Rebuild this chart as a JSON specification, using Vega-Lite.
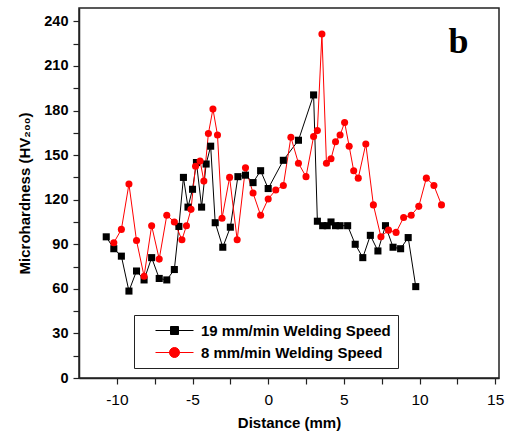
{
  "$schema": "https://vega.github.io/schema/vega-lite/v6.json",
  "width": 420,
  "height": 370,
  "autosize": "none",
  "padding": {"left": 79, "top": 8, "right": 9, "bottom": 63},
  "config": {
    "view": {"stroke": "#222", "strokeWidth": 1.5},
    "font": "Liberation Sans"
  },
  "datasets": {
    "pts": [
      {"series": "19 mm/min Welding Speed", "x": -10.7, "y": 95},
      {"series": "19 mm/min Welding Speed", "x": -10.2, "y": 87},
      {"series": "19 mm/min Welding Speed", "x": -9.7, "y": 82},
      {"series": "19 mm/min Welding Speed", "x": -9.2, "y": 58.5},
      {"series": "19 mm/min Welding Speed", "x": -8.7, "y": 72},
      {"series": "19 mm/min Welding Speed", "x": -8.2, "y": 66},
      {"series": "19 mm/min Welding Speed", "x": -7.7, "y": 81},
      {"series": "19 mm/min Welding Speed", "x": -7.2, "y": 67},
      {"series": "19 mm/min Welding Speed", "x": -6.7, "y": 66},
      {"series": "19 mm/min Welding Speed", "x": -6.2, "y": 73},
      {"series": "19 mm/min Welding Speed", "x": -5.9, "y": 102},
      {"series": "19 mm/min Welding Speed", "x": -5.6, "y": 135},
      {"series": "19 mm/min Welding Speed", "x": -5.3, "y": 115},
      {"series": "19 mm/min Welding Speed", "x": -5.0, "y": 127},
      {"series": "19 mm/min Welding Speed", "x": -4.74, "y": 145},
      {"series": "19 mm/min Welding Speed", "x": -4.4, "y": 115},
      {"series": "19 mm/min Welding Speed", "x": -4.1, "y": 144},
      {"series": "19 mm/min Welding Speed", "x": -3.8, "y": 156},
      {"series": "19 mm/min Welding Speed", "x": -3.5, "y": 104.5},
      {"series": "19 mm/min Welding Speed", "x": -3.0, "y": 88},
      {"series": "19 mm/min Welding Speed", "x": -2.5, "y": 101.5},
      {"series": "19 mm/min Welding Speed", "x": -2.0, "y": 135.5},
      {"series": "19 mm/min Welding Speed", "x": -1.5, "y": 136.5},
      {"series": "19 mm/min Welding Speed", "x": -1.0, "y": 131.5},
      {"series": "19 mm/min Welding Speed", "x": -0.5, "y": 139.5},
      {"series": "19 mm/min Welding Speed", "x": 0.0, "y": 127.5},
      {"series": "19 mm/min Welding Speed", "x": 1.0, "y": 146.5},
      {"series": "19 mm/min Welding Speed", "x": 2.0, "y": 160},
      {"series": "19 mm/min Welding Speed", "x": 3.0, "y": 190.5},
      {"series": "19 mm/min Welding Speed", "x": 3.25, "y": 105.5},
      {"series": "19 mm/min Welding Speed", "x": 3.6, "y": 102.5},
      {"series": "19 mm/min Welding Speed", "x": 3.9, "y": 102.5},
      {"series": "19 mm/min Welding Speed", "x": 4.15, "y": 105},
      {"series": "19 mm/min Welding Speed", "x": 4.45, "y": 102.5},
      {"series": "19 mm/min Welding Speed", "x": 4.75, "y": 102.5},
      {"series": "19 mm/min Welding Speed", "x": 5.25, "y": 102.5},
      {"series": "19 mm/min Welding Speed", "x": 5.75, "y": 90},
      {"series": "19 mm/min Welding Speed", "x": 6.25, "y": 81},
      {"series": "19 mm/min Welding Speed", "x": 6.75, "y": 96},
      {"series": "19 mm/min Welding Speed", "x": 7.25, "y": 85.5},
      {"series": "19 mm/min Welding Speed", "x": 7.75, "y": 102.5},
      {"series": "19 mm/min Welding Speed", "x": 8.25, "y": 88},
      {"series": "19 mm/min Welding Speed", "x": 8.75, "y": 87},
      {"series": "19 mm/min Welding Speed", "x": 9.25, "y": 94.5},
      {"series": "19 mm/min Welding Speed", "x": 9.75, "y": 61.5},
      {"series": "8 mm/min Welding Speed", "x": -10.2, "y": 91},
      {"series": "8 mm/min Welding Speed", "x": -9.7, "y": 100},
      {"series": "8 mm/min Welding Speed", "x": -9.2, "y": 130.5},
      {"series": "8 mm/min Welding Speed", "x": -8.7, "y": 92.5},
      {"series": "8 mm/min Welding Speed", "x": -8.2, "y": 68.5},
      {"series": "8 mm/min Welding Speed", "x": -7.7, "y": 102.5},
      {"series": "8 mm/min Welding Speed", "x": -7.2, "y": 80},
      {"series": "8 mm/min Welding Speed", "x": -6.7, "y": 109.5},
      {"series": "8 mm/min Welding Speed", "x": -6.2, "y": 105},
      {"series": "8 mm/min Welding Speed", "x": -5.7, "y": 93},
      {"series": "8 mm/min Welding Speed", "x": -5.4, "y": 102.5},
      {"series": "8 mm/min Welding Speed", "x": -5.1, "y": 113.5},
      {"series": "8 mm/min Welding Speed", "x": -4.8, "y": 142.5},
      {"series": "8 mm/min Welding Speed", "x": -4.5, "y": 146},
      {"series": "8 mm/min Welding Speed", "x": -4.25, "y": 132.5},
      {"series": "8 mm/min Welding Speed", "x": -3.95, "y": 164.5},
      {"series": "8 mm/min Welding Speed", "x": -3.65, "y": 181},
      {"series": "8 mm/min Welding Speed", "x": -3.35, "y": 163.5},
      {"series": "8 mm/min Welding Speed", "x": -3.05, "y": 107.5},
      {"series": "8 mm/min Welding Speed", "x": -2.55, "y": 135},
      {"series": "8 mm/min Welding Speed", "x": -2.05, "y": 93},
      {"series": "8 mm/min Welding Speed", "x": -1.5, "y": 141.5},
      {"series": "8 mm/min Welding Speed", "x": -1.0, "y": 124.5},
      {"series": "8 mm/min Welding Speed", "x": -0.5, "y": 109.5},
      {"series": "8 mm/min Welding Speed", "x": 0.0, "y": 120.5},
      {"series": "8 mm/min Welding Speed", "x": 0.5, "y": 126.5},
      {"series": "8 mm/min Welding Speed", "x": 1.0, "y": 129.5},
      {"series": "8 mm/min Welding Speed", "x": 1.5, "y": 162},
      {"series": "8 mm/min Welding Speed", "x": 2.0, "y": 144.5},
      {"series": "8 mm/min Welding Speed", "x": 2.5, "y": 135.5},
      {"series": "8 mm/min Welding Speed", "x": 3.0, "y": 162.5},
      {"series": "8 mm/min Welding Speed", "x": 3.25, "y": 166.5},
      {"series": "8 mm/min Welding Speed", "x": 3.55, "y": 231.5},
      {"series": "8 mm/min Welding Speed", "x": 3.85, "y": 144.5},
      {"series": "8 mm/min Welding Speed", "x": 4.15, "y": 147.5},
      {"series": "8 mm/min Welding Speed", "x": 4.45, "y": 159},
      {"series": "8 mm/min Welding Speed", "x": 4.75, "y": 163.5},
      {"series": "8 mm/min Welding Speed", "x": 5.05, "y": 172},
      {"series": "8 mm/min Welding Speed", "x": 5.35, "y": 156},
      {"series": "8 mm/min Welding Speed", "x": 5.65, "y": 139.5},
      {"series": "8 mm/min Welding Speed", "x": 5.95, "y": 134.5},
      {"series": "8 mm/min Welding Speed", "x": 6.45, "y": 157.5},
      {"series": "8 mm/min Welding Speed", "x": 6.95, "y": 116.5},
      {"series": "8 mm/min Welding Speed", "x": 7.45, "y": 95},
      {"series": "8 mm/min Welding Speed", "x": 7.95, "y": 99.5},
      {"series": "8 mm/min Welding Speed", "x": 8.45, "y": 98},
      {"series": "8 mm/min Welding Speed", "x": 8.95, "y": 108},
      {"series": "8 mm/min Welding Speed", "x": 9.45, "y": 109.5},
      {"series": "8 mm/min Welding Speed", "x": 9.95, "y": 115.5},
      {"series": "8 mm/min Welding Speed", "x": 10.45, "y": 134.5},
      {"series": "8 mm/min Welding Speed", "x": 10.95, "y": 129.5},
      {"series": "8 mm/min Welding Speed", "x": 11.45, "y": 116.5}
    ],
    "label": [{"text": "b", "x": 12.58, "y": 218.5}]
  },
  "encoding": {
    "x": {
      "field": "x", "type": "quantitative",
      "scale": {"domain": [-12.5, 15.25], "nice": false, "zero": false},
      "axis": {
        "title": "Distance (mm)",
        "values": [-10, -7.5, -5, -2.5, 0, 2.5, 5, 7.5, 10, 12.5, 15],
        "labelExpr": "datum.value % 5 === 0 ? '' + datum.value : ''",
        "grid": false,
        "domainColor": "#222", "domainWidth": 1.5,
        "tickColor": "#222", "tickWidth": 1.2, "tickSize": 6,
        "labelFont": "Liberation Sans", "labelFontSize": 15.5, "labelColor": "#000",
        "labelPadding": 8, "labelFlush": false,
        "titleFont": "Liberation Sans", "titleFontSize": 15, "titleFontWeight": "bold", "titleColor": "#000",
        "titlePadding": 8,
        "encode": {"ticks": {"update": {"y2": {"signal": "datum.value % 5 === 0 ? 6 : 3.5"}}}}
      }
    },
    "y": {
      "field": "y", "type": "quantitative",
      "scale": {"domain": [0, 249], "nice": false},
      "axis": {
        "title": "Microhardness (HV₂₀₀)",
        "values": [0, 15, 30, 45, 60, 75, 90, 105, 120, 135, 150, 165, 180, 195, 210, 225, 240],
        "labelExpr": "datum.value % 30 === 0 ? datum.label : ''",
        "grid": false,
        "domainColor": "#222", "domainWidth": 1.5,
        "tickColor": "#222", "tickWidth": 1.2, "tickSize": 6,
        "labelFont": "Liberation Sans", "labelFontSize": 14.5, "labelFontWeight": "bold", "labelColor": "#000",
        "labelPadding": 5,
        "titleFont": "Liberation Sans", "titleFontSize": 15, "titleFontWeight": "bold", "titleColor": "#000",
        "titlePadding": 11,
        "encode": {"ticks": {"update": {"x2": {"signal": "datum.value % 30 === 0 ? -6 : -3.5"}}}}
      }
    }
  },
  "layer": [
    {
      "data": {"name": "pts"},
      "mark": {"type": "line", "strokeWidth": 1},
      "encoding": {
        "color": {
          "field": "series", "type": "nominal",
          "scale": {"domain": ["19 mm/min Welding Speed", "8 mm/min Welding Speed"], "range": ["#000000", "#ff0000"]},
          "legend": {
            "title": null,
            "orient": "none",
            "legendX": 55,
            "legendY": 307,
            "direction": "vertical",
            "padding": 7,
            "strokeColor": "#222",
            "fillColor": "#ffffff",
            "symbolSize": 256,
            "symbolStrokeWidth": 1,
            "labelFont": "Liberation Sans",
            "labelFontSize": 15,
            "labelFontWeight": "bold",
            "labelColor": "#000",
            "labelOffset": 43,
            "rowPadding": 5,
            "labelLimit": 400,
            "labelExpr": "datum.label + '\u00a0\u00a0\u00a0'",
            "encode": {
              "symbols": {
                "update": {
                  "shape": {"signal": "datum.value === '19 mm/min Welding Speed' ? 'M0.75,0H5.5M2.625,-0.5H3.625V0.5H2.625Z' : 'M0.75,0H5.5M3.75,0A0.625,0.625,0,1,1,2.5,0A0.625,0.625,0,1,1,3.75,0Z'"},
                  "fill": {"signal": "datum.value === '19 mm/min Welding Speed' ? '#000000' : '#ff0000'"},
                  "stroke": {"signal": "datum.value === '19 mm/min Welding Speed' ? '#000000' : '#ff0000'"},
                  "strokeWidth": {"value": 1},
                  "opacity": {"value": 1}
                }
              }
            }
          }
        }
      }
    },
    {
      "data": {"name": "pts"},
      "transform": [{"filter": "datum.series === '19 mm/min Welding Speed'"}],
      "mark": {"type": "point", "shape": "square", "filled": true, "opacity": 1, "size": 50, "color": "#000000"}
    },
    {
      "data": {"name": "pts"},
      "transform": [{"filter": "datum.series === '8 mm/min Welding Speed'"}],
      "mark": {"type": "point", "shape": "circle", "filled": true, "opacity": 1, "size": 50, "color": "#ff0000"}
    },
    {
      "data": {"name": "label"},
      "mark": {"type": "text", "font": "Liberation Serif", "fontWeight": "bold", "fontSize": 36, "align": "center", "baseline": "alphabetic", "color": "#000"},
      "encoding": {
        "x": {"field": "x", "type": "quantitative"},
        "y": {"field": "y", "type": "quantitative"},
        "text": {"field": "text"}
      }
    }
  ]
}
